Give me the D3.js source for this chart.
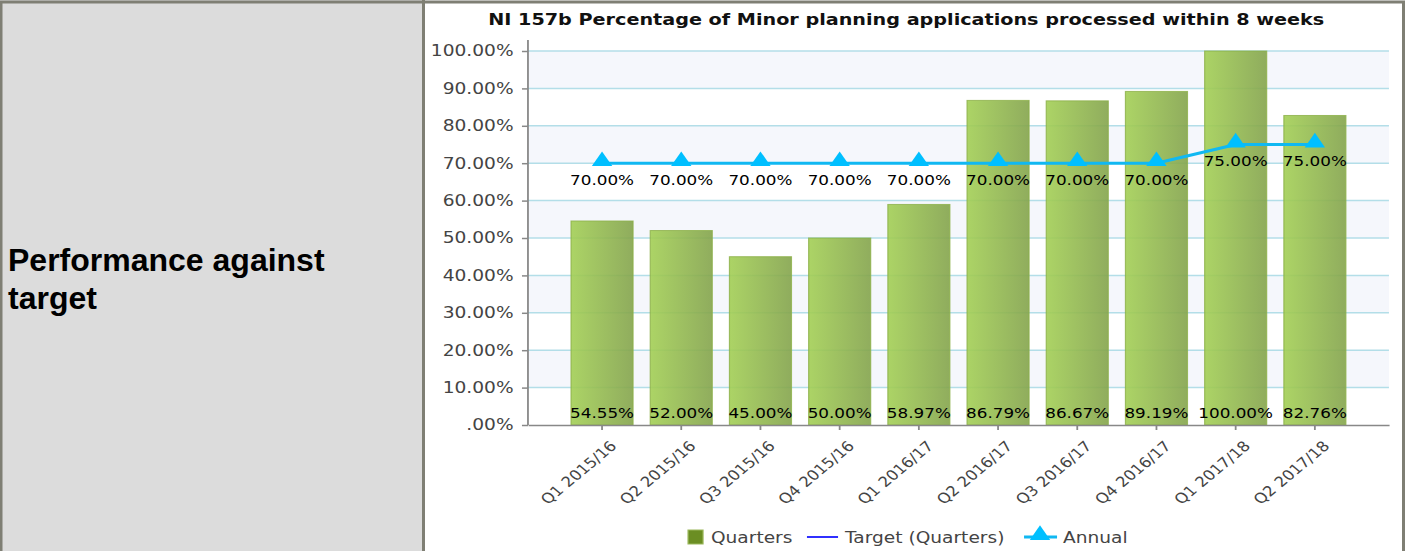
<!DOCTYPE html>
<html>
<head>
<meta charset="utf-8">
<script src="https://cdn.jsdelivr.net/npm/d3@7"></script>
<style>
  body { margin: 0; background: #fff; }
  svg { display: block; }
</style>
</head>
<body>
<div id="vis"></div>
<script>
// data
let categories = ['Q1 2015/16', 'Q2 2015/16', 'Q3 2015/16', 'Q4 2015/16', 'Q1 2016/17',
                  'Q2 2016/17', 'Q3 2016/17', 'Q4 2016/17', 'Q1 2017/18', 'Q2 2017/18']
let quarters = [54.55, 52.00, 45.00, 50.00, 58.97, 86.79, 86.67, 89.19, 100.00, 82.76]
let annual = [70, 70, 70, 70, 70, 70, 70, 70, 75, 75]
let yTicks = [0, 10, 20, 30, 40, 50, 60, 70, 80, 90, 100]
let legendItems = ['Quarters', 'Target (Quarters)', 'Annual']

let title = 'NI 157b Percentage of Minor planning applications processed within 8 weeks'

let width = 1410,
    height = 551

let svg = d3.select('#vis')
  .append('svg')
  .attr('width', width)
  .attr('height', height)

// table layout: grey label cell + chart cell
let borderColor = '#7f7f74'
svg.append('rect')
  .attr('x', 0).attr('y', 0)
  .attr('width', 422).attr('height', height)
  .attr('fill', '#dcdcdc')
svg.append('rect')
  .attr('x', 1).attr('y', 2)
  .attr('width', 1402.5).attr('height', height + 10)
  .attr('fill', 'none')
  .attr('stroke', borderColor)
  .attr('stroke-width', 3)
svg.append('line')
  .attr('x1', 423.5).attr('x2', 423.5)
  .attr('y1', 0).attr('y2', height)
  .attr('stroke', borderColor)
  .attr('stroke-width', 3)

svg.append('text')
  .attr('x', 8)
  .attr('font-family', 'Liberation Sans, Arial, sans-serif')
  .attr('font-weight', 'bold')
  .attr('font-size', 32)
  .attr('fill', '#000')
  .selectAll('tspan')
  .data(['Performance against', 'target'])
  .join('tspan')
  .attr('x', 8)
  .attr('y', (d, i) => 271 + i * 38)
  .text(d => d)

// chart is a bit stretched sideways, so draw it in a scaled group
let sx = 1.2
let g = svg.append('g')
  .attr('transform', `translate(425,0) scale(${sx},1)`)
  .attr('font-family', 'DejaVu Sans, Verdana, sans-serif')

let plotLeft = 85.8, plotRight = 803.3, plotTop = 51, plotBottom = 425

let x = d3.scaleBand()
  .domain(categories)
  .range([plotLeft, plotRight])
  .paddingInner(0.217)
  .paddingOuter(0.544)

let y = d3.scaleLinear()
  .domain([0, 100])
  .range([plotBottom, plotTop])

let cx = c => x(c) + x.bandwidth() / 2

// alternating bands
g.selectAll('.band')
  .data(yTicks.slice(0, -1).filter(d => (d / 10) % 2 == 1))
  .join('rect')
  .attr('x', plotLeft)
  .attr('y', d => y(d + 10))
  .attr('width', plotRight - plotLeft)
  .attr('height', d => y(d) - y(d + 10))
  .attr('fill', '#f5f7fc')

// gridlines
g.selectAll('.grid')
  .data(yTicks.slice(1))
  .join('line')
  .attr('x1', plotLeft).attr('x2', plotRight)
  .attr('y1', d => y(d)).attr('y2', d => y(d))
  .attr('stroke', '#b3dee8')
  .attr('stroke-width', 1.5)

// bars
let defs = svg.append('defs')
let grad = defs.append('linearGradient')
  .attr('id', 'barGrad')
  .attr('x1', 0).attr('x2', 1).attr('y1', 0).attr('y2', 0)
grad.append('stop').attr('offset', '0%').attr('stop-color', '#a3cf55')
grad.append('stop').attr('offset', '100%').attr('stop-color', '#84a44c')

g.selectAll('.bar')
  .data(quarters)
  .join('rect')
  .attr('x', (d, i) => x(categories[i]))
  .attr('y', d => y(d))
  .attr('width', x.bandwidth())
  .attr('height', d => y(0) - y(d))
  .attr('fill', 'url(#barGrad)')
  .attr('fill-opacity', 0.9)
  .attr('stroke', '#8cb049')
  .attr('stroke-opacity', 0.8)
  .attr('stroke-width', 1)

// axes
let yAxis = g.append('g')
  .attr('transform', `translate(${plotLeft},0)`)
  .call(d3.axisLeft(y)
    .tickValues(yTicks)
    .tickSize(5)
    .tickSizeOuter(0)
    .tickPadding(7)
    .tickFormat(d => d == 0 ? '.00%' : d.toFixed(2) + '%'))
yAxis.select('.domain').remove()
yAxis.selectAll('.tick line').attr('stroke', '#888').attr('stroke-width', 1.5)
yAxis.selectAll('.tick text')
  .attr('font-family', 'DejaVu Sans, Verdana, sans-serif')
  .attr('font-size', 15.5)
  .attr('fill', '#444')

g.append('line')
  .attr('x1', plotLeft).attr('x2', plotLeft)
  .attr('y1', y(100) - 11).attr('y2', plotBottom)
  .attr('stroke', '#888').attr('stroke-width', 1.5)

let xAxis = g.append('g')
  .attr('transform', `translate(0,${plotBottom})`)
  .call(d3.axisBottom(x).tickSize(5).tickSizeOuter(0).tickFormat(''))
xAxis.select('.domain').attr('stroke', '#888').attr('stroke-width', 1.5)
xAxis.selectAll('.tick line').attr('stroke', '#888').attr('stroke-width', 1.5)

g.selectAll('.xlabel')
  .data(categories)
  .join('text')
  .attr('transform', d => `translate(${cx(d) + 13},${plotBottom + 22}) rotate(-45)`)
  .attr('text-anchor', 'end')
  .attr('font-size', 14)
  .attr('fill', '#444')
  .text(d => d)

// bar value labels
g.selectAll('.barlabel')
  .data(quarters)
  .join('text')
  .attr('x', (d, i) => cx(categories[i]))
  .attr('y', plotBottom - 7)
  .attr('text-anchor', 'middle')
  .attr('font-size', 14)
  .attr('fill', '#000')
  .text(d => d.toFixed(2) + '%')

// annual line
let line = d3.line()
  .x((d, i) => cx(categories[i]))
  .y(d => y(d))

g.append('path')
  .datum(annual)
  .attr('d', line)
  .attr('fill', 'none')
  .attr('stroke', '#10b8f2')
  .attr('stroke-width', 3)

let tri = d3.symbol().type(d3.symbolTriangle).size(125)

g.selectAll('.marker')
  .data(annual)
  .join('path')
  .attr('d', tri)
  .attr('transform', (d, i) => `translate(${cx(categories[i])},${y(d) - 2})`)
  .attr('fill', '#00bfff')

g.selectAll('.linelabel')
  .data(annual)
  .join('text')
  .attr('x', (d, i) => cx(categories[i]))
  .attr('y', d => y(d) + 22)
  .attr('text-anchor', 'middle')
  .attr('font-size', 14)
  .attr('fill', '#000')
  .text(d => d.toFixed(2) + '%')

// title
g.append('text')
  .attr('x', 401)
  .attr('y', 25)
  .attr('text-anchor', 'middle')
  .attr('font-weight', 'bold')
  .attr('font-size', 16)
  .attr('fill', '#111')
  .text(title)

// legend
let legend = g.append('g').attr('font-size', 15.5).attr('fill', '#444')

legend.append('rect')
  .attr('x', 219.2).attr('y', 530)
  .attr('width', 12.5).attr('height', 14)
  .attr('fill', '#6b8e23')
  .attr('stroke', '#9bb85c')
legend.append('text').attr('x', 238.3).attr('y', 543).text(legendItems[0])

legend.append('line')
  .attr('x1', 318.3).attr('x2', 344.2)
  .attr('y1', 537).attr('y2', 537)
  .attr('stroke', '#3030ff').attr('stroke-width', 2)
legend.append('text').attr('x', 350).attr('y', 543).text(legendItems[1])

legend.append('line')
  .attr('x1', 499.2).attr('x2', 526.7)
  .attr('y1', 537).attr('y2', 537)
  .attr('stroke', '#10b8f2').attr('stroke-width', 3)
legend.append('path')
  .attr('d', tri)
  .attr('transform', 'translate(512.5,535)')
  .attr('fill', '#00bfff')
legend.append('text').attr('x', 531.7).attr('y', 543).text(legendItems[2])
</script>
</body>
</html>
